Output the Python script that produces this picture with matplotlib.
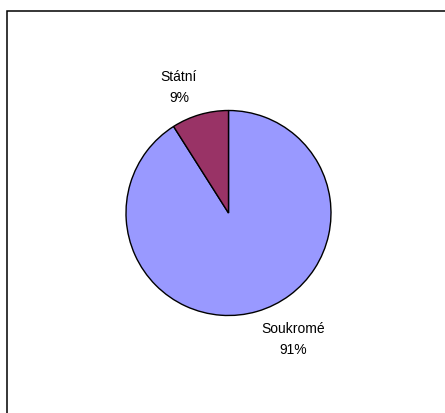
import matplotlib
matplotlib.use("Agg")
import matplotlib.pyplot as plt
from matplotlib.patches import Rectangle

categories = ["Soukromé", "Státní"]
shares = [91, 9]
colors = ["#9999FF", "#993366"]

W, H = 445, 413
fig = plt.figure(figsize=(W / 100, H / 100), dpi=100)
fig.patch.set_facecolor("white")
ax = fig.add_axes([0, 0, 1, 1])
ax.set_xlim(0, W)
ax.set_ylim(0, H)
ax.set_aspect("equal")
ax.axis("off")

# chart area frame
ax.add_patch(Rectangle((7, -20), W + 20, H - 10.5 + 20, fill=False,
                       edgecolor="#000000", linewidth=1.1, zorder=0))

cx, cy, r = 228.5, 200.0, 102.5
ax.pie(shares, colors=colors, startangle=90, counterclock=False,
       center=(cx, cy), radius=r, frame=True,
       wedgeprops=dict(edgecolor="black", linewidth=1.0))
ax.set_xlim(0, W)
ax.set_ylim(0, H)
ax.axis("off")

label_pos = {"Soukromé": (293, 84), "Státní": (179, 336)}
font = dict(family=["Liberation Sans", "DejaVu Sans"], size=10, color="black",
            ha="center", va="center")
for name, val in zip(categories, shares):
    x, y = label_pos[name]
    ax.text(x, y, name, **font)
    ax.text(x, y - 20.5, f"{val}%", **font)

fig.savefig("out.png", dpi=100, facecolor="white")
